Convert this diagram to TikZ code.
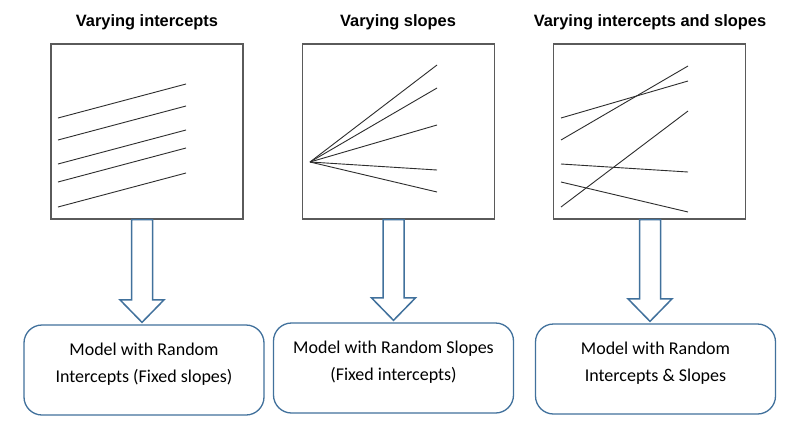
\documentclass[tikz,border=0pt]{standalone}
\usepackage{fontspec}
\setmainfont{Carlito}
\newfontfamily\titlefont{Liberation Sans}
\usepackage{tikz}
\usetikzlibrary{calc}
\definecolor{framegray}{RGB}{90,90,90}
\definecolor{lineblack}{RGB}{45,45,45}
\definecolor{arrowblue}{RGB}{65,113,156}
\tikzset{
  panel-title/.style={font=\titlefont\bfseries\fontsize{16.4}{20}\selectfont,
    anchor=base, inner sep=0pt},
  plot-frame/.style={draw=framegray, line width=1.1pt, minimum width=192pt,
    minimum height=175pt, inner sep=0pt},
  trend-line/.style={draw=lineblack, line width=0.9pt},
  model-box/.style={draw=arrowblue, line width=1.3pt, rounded corners=18pt,
    minimum width=240pt, minimum height=90pt, align=center,
    font=\fontsize{18}{27}\selectfont, inner sep=0pt},
  block-arrow/.style={draw=arrowblue, line width=1.5pt, fill=white, line join=miter}
}

\begin{document}
\begin{tikzpicture}[x=1pt, y=-1pt]
\useasboundingbox[fill=white] (0,0) rectangle (796,432);

\node[panel-title] (intercepts-title) at (147,26) {Varying intercepts};
\node[panel-title] (slopes-title) at (398,26) {Varying slopes};
\node[panel-title] (both-title) at (650,26) {Varying intercepts and slopes};

\node[plot-frame] (intercepts-plot) at (147,131.5) {};
\node[plot-frame] (slopes-plot) at (398.5,131.5) {};
\node[plot-frame] (both-plot) at (649.5,131.5) {};

\foreach \y in {118,140,164,182,207}
  \draw[trend-line] (58,\y) -- (186,\y-34);
\foreach \y in {65,88,125,170,192}
  \draw[trend-line] (310,162) -- (437,\y);
\foreach \ya/\yb in {118/81,140/66,164/172,182/212,207/111}
  \draw[trend-line] (561,\ya) -- (688,\yb);

\node[model-box] (intercepts-model) at (144,370)
  {Model with Random\\Intercepts (Fixed slopes)\\[-12pt]\mbox{}};
\node[model-box] (slopes-model) at (393.5,368)
  {Model with Random Slopes\\(Fixed intercepts)\\[-12pt]\mbox{}};
\node[model-box] (both-model) at (655.5,369)
  {Model with Random\\Intercepts \& Slopes\\[-12pt]\mbox{}};

\foreach \src/\dst/\dx in {intercepts-plot/intercepts-model/-5,
    slopes-plot/slopes-model/-5, both-plot/both-model/0.5}
  \draw[block-arrow] let \p1=($(\src.south)+(\dx,0)$), \p2=(\dst.north) in
    (\x1-10.5pt,\y1) -- (\x1-10.5pt,\y2+24.5pt) -- (\x1-22pt,\y2+24.5pt)
    -- (\x1,\y2+2pt) -- (\x1+22pt,\y2+24.5pt) -- (\x1+10.5pt,\y2+24.5pt)
    -- (\x1+10.5pt,\y1) -- cycle;
\end{tikzpicture}
\end{document}
